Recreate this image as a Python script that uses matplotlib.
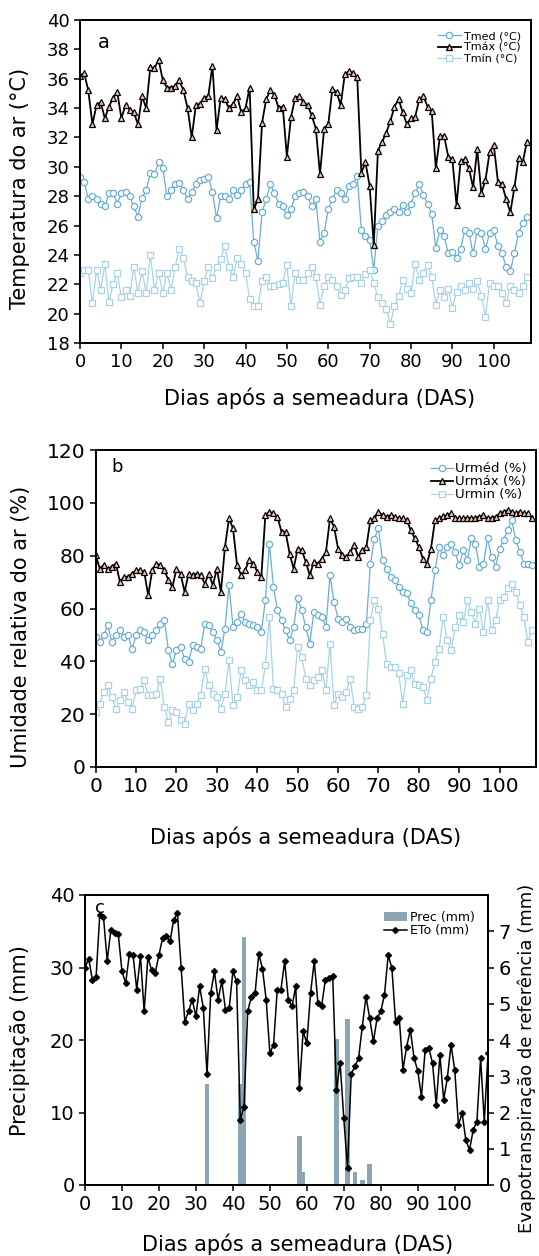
import numpy as np
import matplotlib.pyplot as plt

# ---- panel a: air temperature (deg C), one value per day
tmax = [36.2, 36.4, 35.2, 32.9, 34.2, 34.4, 33.3, 34.1, 34.7, 35.1,
        33.3, 34.2, 33.9, 33.7, 32.9, 34.8, 34.0, 36.8, 36.7, 37.3,
        35.9, 35.4, 35.4, 35.5, 35.9, 35.2, 34.0, 32.0, 34.2, 34.3,
        34.7, 34.8, 36.9, 32.5, 34.7, 34.6, 34.0, 34.3, 34.8, 33.7,
        34.0, 35.4, 27.1, 27.8, 33.0, 34.6, 35.2, 34.9, 34.0, 34.1,
        30.7, 33.4, 34.7, 34.8, 34.4, 34.2, 33.5, 32.6, 29.5, 32.6,
        32.9, 35.3, 35.1, 34.2, 36.3, 36.5, 36.4, 36.1, 29.6, 30.3,
        28.7, 24.7, 31.1, 31.7, 32.3, 33.1, 34.1, 34.6, 33.7, 32.9,
        33.3, 33.4, 34.6, 34.8, 34.1, 33.8, 29.9, 32.1, 32.1, 30.7,
        30.5, 27.4, 30.4, 30.5, 29.9, 28.6, 31.2, 28.2, 29.1, 31.0,
        31.5, 29.0, 28.8, 27.8, 26.9, 28.6, 30.6, 30.3, 31.7]
tmed = [29.3, 29.0, 27.8, 28.0, 27.8, 27.5, 27.3, 28.2, 28.2, 27.5,
        28.2, 28.3, 28.0, 27.3, 26.6, 27.9, 28.4, 29.6, 29.5, 30.3,
        29.9, 28.0, 28.4, 28.8, 28.9, 28.4, 27.8, 28.3, 28.8, 29.1,
        29.2, 29.3, 28.3, 26.5, 28.0, 28.0, 27.8, 28.4, 28.1, 28.4,
        28.8, 29.0, 24.9, 23.6, 26.9, 27.8, 28.8, 28.2, 27.5, 27.3,
        26.7, 27.1, 28.0, 28.2, 28.3, 28.0, 27.3, 27.8, 24.9, 25.5,
        27.1, 27.8, 28.4, 28.2, 27.8, 28.7, 28.8, 29.4, 25.7, 25.3,
        25.0, 23.0, 26.0, 26.3, 26.7, 26.9, 27.1, 26.9, 27.4, 26.9,
        27.5, 28.2, 28.8, 28.1, 27.5, 26.8, 24.5, 25.7, 25.3, 24.1,
        24.2, 23.8, 24.4, 25.7, 25.5, 24.1, 25.6, 25.5, 24.4, 25.5,
        25.7, 24.6, 24.1, 23.2, 22.9, 24.1, 25.5, 26.2, 26.6]
tmin = [22.8, 23.0, 23.0, 20.7, 23.0, 21.6, 23.4, 20.8, 22.0, 22.8,
        21.1, 21.6, 21.2, 23.2, 21.4, 22.9, 21.4, 24.0, 21.6, 22.8,
        21.4, 22.8, 21.6, 23.2, 24.4, 23.8, 22.5, 22.2, 22.1, 20.7,
        22.2, 23.2, 22.4, 23.2, 23.7, 24.6, 23.2, 22.5, 23.8, 23.4,
        22.8, 21.0, 20.5, 20.5, 22.2, 22.5, 21.9, 21.9, 22.0, 22.1,
        23.3, 20.5, 22.8, 22.3, 22.3, 22.8, 23.2, 22.5, 20.6, 21.9,
        22.5, 22.3, 21.9, 21.3, 21.6, 22.4, 22.5, 22.5, 22.1, 22.7,
        23.0, 22.1, 21.1, 20.7, 20.3, 19.3, 20.5, 21.2, 22.3, 21.7,
        21.4, 23.4, 22.3, 22.8, 23.3, 22.5, 20.6, 21.6, 21.1, 21.7,
        20.4, 21.5, 21.9, 21.6, 22.1, 21.7, 22.2, 21.2, 19.8, 22.1,
        21.9, 21.9, 21.4, 20.7, 21.9, 21.6, 21.4, 21.9, 22.5]

# ---- panel b: relative humidity (%)
urmax = [80.2, 75.1, 76.4, 75.1, 75.8, 77.0, 70.1, 72.0, 72.0, 73.2,
         74.5, 74.5, 73.9, 65.0, 74.5, 77.0, 76.4, 74.5, 70.7, 68.2,
         75.1, 73.2, 66.3, 73.2, 72.6, 73.2, 72.6, 69.4, 73.2, 68.8,
         75.1, 66.3, 83.3, 94.1, 90.3, 76.4, 72.6, 74.5, 78.3, 77.0,
         73.9, 72.0, 95.3, 96.6, 96.0, 94.7, 89.0, 89.0, 80.8, 75.1,
         82.7, 82.1, 77.7, 72.6, 77.7, 77.0, 78.9, 81.4, 94.1, 90.9,
         82.7, 80.2, 79.5, 81.4, 84.0, 79.5, 82.1, 83.3, 93.4, 94.1,
         96.6, 95.3, 94.7, 95.3, 94.7, 94.1, 94.1, 93.4, 89.6, 86.5,
         83.3, 78.9, 77.0, 82.7, 93.4, 94.1, 95.0, 95.3, 96.0, 94.4,
         94.1, 94.1, 94.4, 94.1, 94.4, 94.7, 95.3, 94.1, 94.4, 94.7,
         96.0, 96.6, 97.2, 96.6, 96.0, 96.6, 96.0, 96.0, 94.1]
urmed = [49.2, 47.3, 49.9, 53.7, 47.3, 49.9, 51.8, 49.2, 49.9, 44.8,
         49.9, 51.8, 51.1, 48.0, 49.9, 51.8, 54.3, 55.6, 44.2, 39.1,
         44.2, 45.5, 41.0, 39.8, 46.1, 45.5, 44.8, 54.3, 53.7, 51.1,
         48.0, 43.6, 52.4, 68.8, 53.0, 54.9, 58.1, 54.9, 54.3, 53.7,
         53.0, 51.1, 63.1, 84.6, 68.2, 59.3, 55.6, 51.8, 48.0, 53.0,
         63.8, 59.3, 53.0, 46.7, 58.7, 57.4, 56.8, 53.0, 72.6, 62.5,
         56.2, 54.9, 56.2, 53.0, 51.8, 52.4, 52.4, 54.3, 76.8, 86.4,
         90.3, 78.3, 75.1, 72.0, 70.7, 68.2, 66.3, 65.7, 61.9, 59.3,
         57.4, 51.8, 51.1, 63.1, 74.5, 83.3, 80.2, 83.3, 84.6, 81.4,
         76.4, 82.1, 78.3, 86.5, 84.6, 75.8, 77.0, 86.5, 79.5, 75.8,
         82.7, 86.0, 89.6, 93.4, 85.9, 81.4, 77.0, 77.0, 76.4]
urmin = [20.8, 24.0, 28.4, 30.9, 26.5, 22.1, 25.3, 28.4, 24.6, 22.1,
         29.0, 29.7, 32.8, 27.1, 27.1, 27.8, 33.5, 22.7, 17.0, 21.5,
         20.8, 17.7, 16.4, 24.0, 21.5, 24.0, 27.1, 37.2, 30.9, 27.8,
         26.5, 22.1, 27.8, 40.4, 23.4, 26.5, 36.6, 32.8, 30.9, 32.2,
         29.0, 29.0, 38.5, 56.8, 29.7, 29.0, 27.8, 22.7, 25.9, 29.0,
         45.5, 41.7, 33.5, 30.9, 32.8, 34.1, 36.6, 29.0, 46.7, 23.4,
         27.8, 26.5, 28.4, 33.5, 22.7, 22.1, 22.7, 27.1, 55.6, 63.1,
         60.0, 50.5, 39.1, 37.9, 37.9, 35.4, 24.0, 34.7, 36.6, 31.6,
         30.9, 30.3, 25.3, 33.5, 39.8, 44.8, 56.8, 48.0, 44.2, 53.0,
         57.4, 54.9, 63.1, 58.7, 54.3, 60.0, 51.1, 63.1, 51.8, 55.6,
         63.1, 64.4, 67.6, 69.4, 66.3, 61.2, 56.8, 47.3, 51.8]

# ---- panel c: rainfall (mm) and reference evapotranspiration (mm)
prec_days = [33, 42, 43, 58, 59, 68, 71, 73, 75, 77]
prec_mm = [13.9, 13.9, 34.2, 6.7, 1.85, 20.1, 22.9, 1.85, 0.7, 2.9]
eto = [6.00, 6.24, 5.66, 5.74, 7.46, 7.39, 6.19, 7.04, 6.95, 6.92,
       5.89, 5.57, 6.37, 6.34, 5.39, 6.31, 4.79, 6.28, 5.94, 5.85,
       6.35, 6.81, 6.86, 6.72, 7.32, 7.50, 6.00, 4.51, 4.79, 5.11,
       4.65, 5.48, 4.88, 3.06, 5.29, 5.89, 5.11, 5.62, 4.83, 4.88,
       5.89, 5.62, 1.80, 2.16, 4.79, 5.20, 5.29, 6.37, 5.97, 5.11,
       3.64, 3.87, 5.39, 5.39, 6.17, 5.11, 4.93, 5.48, 2.67, 4.24,
       3.91, 5.29, 6.17, 5.02, 4.93, 5.66, 5.71, 5.76, 2.62, 3.36,
       1.84, 0.46, 3.06, 3.27, 3.50, 4.37, 5.20, 4.60, 3.96, 4.60,
       4.79, 5.25, 6.34, 5.99, 4.51, 4.60, 3.18, 3.82, 4.28, 3.50,
       3.15, 2.44, 3.73, 3.78, 3.36, 2.21, 3.59, 2.35, 2.95, 3.87,
       3.18, 1.66, 1.98, 1.24, 0.97, 1.52, 1.75, 3.50, 1.75, 3.64]

xticks = list(range(0, 101, 10))
c_med = '#6aaed3'
c_min = '#a8d2e6'
c_max_face = '#f3c4b0'
xlabel = 'Dias após a semeadura (DAS)'

W, H = 539, 1256
fig = plt.figure(figsize=(W / 100, H / 100), dpi=100)


def box(left, top, right, bottom):
    return [left / W, 1 - bottom / H, (right - left) / W, (bottom - top) / H]


def style(ax, size):
    for s in ax.spines.values():
        s.set_linewidth(1.4)
    ax.tick_params(direction='out', length=4, width=1.1, labelsize=size)
    ax.set_xlim(0, 109)
    ax.set_xticks(xticks)


# ---------------- a
ax = fig.add_axes(box(80, 20, 531, 343))
d = np.arange(len(tmax))
ax.plot(d, tmed, '-o', color=c_med, lw=0.9, ms=4.5, mfc='white', mec=c_med, mew=0.9, label='Tmed (°C)')
ax.plot(d, tmax, '-^', color='black', lw=1.3, ms=5, mfc=c_max_face, mec='black', mew=0.9, label='Tmáx (°C)')
ax.plot(d, tmin, '-s', color=c_min, lw=0.9, ms=4.5, mfc='white', mec=c_min, mew=0.9, label='Tmín (°C)')
style(ax, 13)
ax.set_ylim(18, 40)
ax.set_yticks(range(18, 41, 2))
ax.legend(loc='upper right', bbox_to_anchor=(0.995, 0.99), frameon=False, fontsize=8,
          handlelength=2.0, handletextpad=0.3, labelspacing=0.15, borderpad=0.2)
ax.text(0.04, 0.96, 'a', transform=ax.transAxes, fontsize=14, va='top', ha='left')
fig.text(20 / W, 1 - 188 / H, 'Temperatura do ar (°C)', rotation=90, ha='center', va='center', fontsize=15)
fig.text(320 / W, 1 - 398 / H, xlabel, ha='center', va='center', fontsize=15)

# ---------------- b
ax = fig.add_axes(box(95.7, 450, 536, 767))
d = np.arange(len(urmax))
ax.plot(d, urmed, '-o', color=c_med, lw=0.9, ms=4.5, mfc='white', mec=c_med, mew=0.9, label='Urméd (%)')
ax.plot(d, urmax, '-^', color='black', lw=1.3, ms=5, mfc=c_max_face, mec='black', mew=0.9, label='Urmáx (%)')
ax.plot(d, urmin, '-s', color=c_min, lw=0.9, ms=4.5, mfc='white', mec=c_min, mew=0.9, label='Urmin (%)')
style(ax, 14.5)
ax.set_ylim(0, 120)
ax.set_yticks(range(0, 121, 20))
ax.legend(loc='upper right', bbox_to_anchor=(1.0, 0.99), frameon=False, fontsize=9.5,
          handlelength=1.6, handletextpad=0.2, labelspacing=0.0, borderpad=0.2)
ax.text(0.035, 0.975, 'b', transform=ax.transAxes, fontsize=13, va='top', ha='left')
fig.text(21 / W, 1 - 627 / H, 'Umidade relativa do ar (%)', rotation=90, ha='center', va='center', fontsize=15)
fig.text(306 / W, 1 - 837 / H, xlabel, ha='center', va='center', fontsize=15)

# ---------------- c
ax = fig.add_axes(box(85, 895, 488, 1185))
ax.bar(prec_days, prec_mm, width=1.2, color='#8ba5b2', label='Prec (mm)', zorder=1)
style(ax, 14)
ax.set_ylim(0, 40)
ax.set_yticks(range(0, 41, 10))
ax2 = ax.twinx()
ax2.plot(np.arange(len(eto)), eto, '-D', color='black', lw=1.1, ms=3, label='ETo (mm)')
ax2.set_ylim(0, 8)
ax2.set_yticks(range(0, 8))
ax2.tick_params(direction='out', length=4, width=1.1, labelsize=14)
for s in ax2.spines.values():
    s.set_linewidth(1.4)
h1, l1 = ax.get_legend_handles_labels()
h2, l2 = ax2.get_legend_handles_labels()
ax2.legend(h1 + h2, l1 + l2, loc='upper right', bbox_to_anchor=(0.99, 0.975), frameon=False,
           fontsize=9, handlelength=1.8, handletextpad=0.3, labelspacing=0.0, borderpad=0.2)
ax.text(0.025, 0.985, 'c', transform=ax.transAxes, fontsize=13, va='top', ha='left')
fig.text(20 / W, 1 - 1041 / H, 'Precipitação (mm)', rotation=90, ha='center', va='center', fontsize=15)
fig.text(527 / W, 1 - 1058 / H, 'Evapotranspiração de referência (mm)', rotation=90,
         ha='center', va='center', fontsize=13)
fig.text(298 / W, 1 - 1244 / H, xlabel, ha='center', va='center', fontsize=15)

fig.savefig('out.png', dpi=100)
